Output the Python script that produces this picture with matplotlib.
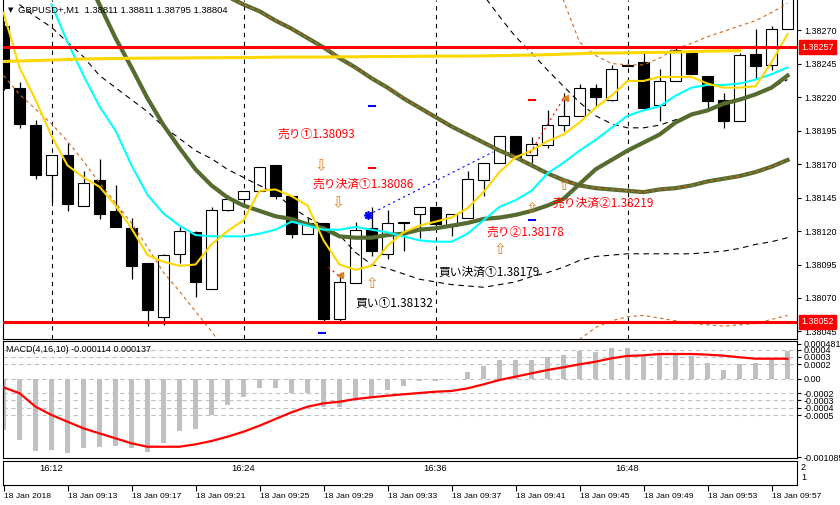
import numpy as np
import matplotlib
matplotlib.use("Agg")
import matplotlib.pyplot as plt

# GBPUSD+ M1 candles, 18 Jan 09:09 .. 09:58
opens = [1.38273, 1.38227, 1.38199, 1.38162, 1.38177, 1.38139, 1.38158, 1.38135, 1.38122, 1.38096,
         1.38056, 1.38103, 1.38119, 1.38077, 1.38136, 1.38144, 1.38150, 1.38169, 1.38146, 1.38118,
         1.38126, 1.38054, 1.38081, 1.38122, 1.38103, 1.38127, 1.38133, 1.38138, 1.38124, 1.38130,
         1.38158, 1.38171, 1.38191, 1.38177, 1.38184, 1.38199, 1.38206, 1.38227, 1.38218, 1.38243,
         1.38246, 1.38214, 1.38232, 1.38253, 1.38236, 1.38218, 1.38202, 1.38252, 1.38244, 1.38271]
highs = [1.38277, 1.38231, 1.38203, 1.38177, 1.38186, 1.38165, 1.38174, 1.38154, 1.38130, 1.38096,
         1.38103, 1.38123, 1.38120, 1.38138, 1.38147, 1.38150, 1.38168, 1.38169, 1.38146, 1.38130,
         1.38126, 1.38088, 1.38127, 1.38138, 1.38136, 1.38127, 1.38138, 1.38138, 1.38133, 1.38165,
         1.38171, 1.38191, 1.38191, 1.38190, 1.38210, 1.38223, 1.38230, 1.38230, 1.38244, 1.38244,
         1.38254, 1.38241, 1.38258, 1.38254, 1.38236, 1.38223, 1.38253, 1.38271, 1.38273, 1.38300]
lows = [1.38225, 1.38197, 1.38159, 1.38142, 1.38135, 1.38139, 1.38129, 1.38123, 1.38084, 1.38049,
        1.38050, 1.38096, 1.38071, 1.38077, 1.38135, 1.38142, 1.38150, 1.38144, 1.38115, 1.38118,
        1.38052, 1.38052, 1.38081, 1.38101, 1.38099, 1.38105, 1.38115, 1.38123, 1.38116, 1.38130,
        1.38146, 1.38171, 1.38175, 1.38171, 1.38182, 1.38195, 1.38206, 1.38213, 1.38217, 1.38243,
        1.38212, 1.38202, 1.38232, 1.38237, 1.38210, 1.38197, 1.38202, 1.38234, 1.38240, 1.38271]
closes = [1.38227, 1.38200, 1.38162, 1.38177, 1.38140, 1.38156, 1.38133, 1.38123, 1.38094, 1.38061,
          1.38102, 1.38120, 1.38082, 1.38136, 1.38144, 1.38150, 1.38168, 1.38146, 1.38118, 1.38126,
          1.38054, 1.38082, 1.38121, 1.38105, 1.38126, 1.38126, 1.38138, 1.38125, 1.38133, 1.38159,
          1.38171, 1.38191, 1.38175, 1.38185, 1.38199, 1.38206, 1.38227, 1.38220, 1.38241, 1.38244,
          1.38212, 1.38232, 1.38255, 1.38237, 1.38217, 1.38202, 1.38251, 1.38243, 1.38271, 1.38300]

nan = np.nan
ma_gold = [1.38283, 1.38242, 1.38218, 1.38191, 1.38169, 1.38160, 1.38153, 1.38139, 1.38122, 1.38102,
           1.38097, 1.38094, 1.38095, 1.38110, 1.38120, 1.38128, 1.38150, 1.38151, 1.38146, 1.38139,
           1.38113, 1.38095, 1.38091, 1.38094, 1.38109, 1.38119, 1.38124, 1.38127, 1.38130, 1.38137,
           1.38149, 1.38164, 1.38175, 1.38180, 1.38187, 1.38192, 1.38201, 1.38212, 1.38221, 1.38232,
           1.38232, 1.38235, 1.38235, 1.38235, 1.38230, 1.38227, 1.38227, 1.38228, 1.38246, 1.38267]
ma_aqua = [nan, nan, nan, 1.38289, 1.38261, 1.38236, 1.38213, 1.38195, 1.38169, 1.38147,
           1.38133, 1.38124, 1.38117, 1.38116, 1.38116, 1.38116, 1.38118, 1.38121, 1.38127, 1.38124,
           1.38121, 1.38121, 1.38123, 1.38121, 1.38119, 1.38116, 1.38113, 1.38112, 1.38112, 1.38118,
           1.38128, 1.38138, 1.38143, 1.38150, 1.38163, 1.38171, 1.38180, 1.38188, 1.38197, 1.38206,
           1.38210, 1.38213, 1.38221, 1.38227, 1.38229, 1.38229, 1.38230, 1.38233, 1.38237, 1.38242]
ma_olive_fast = [nan, nan, nan, nan, nan, 1.38313, 1.38289, 1.38264, 1.38242, 1.38219,
                 1.38199, 1.38182, 1.38166, 1.38154, 1.38145, 1.38139, 1.38135, 1.38131, 1.38129, 1.38125,
                 1.38122, 1.38116, 1.38115, 1.38115, 1.38117, 1.38118, 1.38121, 1.38122, 1.38124, 1.38126,
                 1.38129, 1.38130, 1.38132, 1.38135, 1.38139, 1.38144, 1.38155, 1.38166, 1.38173, 1.38180,
                 1.38186, 1.38192, 1.38201, 1.38207, 1.38210, 1.38215, 1.38218, 1.38222, 1.38227, 1.38236]
ma_olive_slow = [nan] * 14 + [
                 1.38295, 1.38289, 1.38284, 1.38277, 1.38271, 1.38264,
                 1.38257, 1.38249, 1.38242, 1.38234, 1.38227, 1.38219, 1.38212, 1.38205, 1.38198, 1.38192,
                 1.38186, 1.38180, 1.38175, 1.38169, 1.38163, 1.38158, 1.38154, 1.38152, 1.38151, 1.38150,
                 1.38149, 1.38151, 1.38152, 1.38154, 1.38157, 1.38159, 1.38161, 1.38164, 1.38168, 1.38173]
ma_gold_slow = [1.382465, 1.382469, 1.382472, 1.382476, 1.382480, 1.382484, 1.382486, 1.382487, 1.382489, 1.382490,
                1.382491, 1.382491, 1.382493, 1.382493, 1.382494, 1.382494, 1.382496, 1.382497, 1.382498, 1.382498,
                1.382498, 1.382500, 1.382500, 1.382502, 1.382502, 1.382503, 1.382504, 1.382505, 1.382505, 1.382505,
                1.382507, 1.382509, 1.382511, 1.382513, 1.382516, 1.382520, 1.382524, 1.382528, 1.382528, 1.382530,
                1.382532, 1.382533, 1.382535, 1.382539, 1.382542, 1.382544, 1.382546, nan, nan, nan]
band_black_low = [nan, 1.38289, 1.38280, 1.38272, 1.38261, 1.38250, 1.38236, 1.38227, 1.38218, 1.38209,
                  1.38198, 1.38189, 1.38180, 1.38174, 1.38166, 1.38160, 1.38154, 1.38148, 1.38138, 1.38130,
                  1.38124, 1.38117, 1.38104, 1.38095, 1.38092, 1.38088, 1.38084, 1.38082, 1.38080, 1.38079,
                  1.38078, 1.38080, 1.38082, 1.38086, 1.38089, 1.38093, 1.38098, 1.38101, 1.38102, 1.38103,
                  1.38103, 1.38103, 1.38103, 1.38103, 1.38104, 1.38105, 1.38107, 1.38110, 1.38112, 1.38115]
band_black_up = [nan] * 30 + [
                 1.38296, 1.38280, 1.38265, 1.38253, 1.38240, 1.38228, 1.38216, 1.38206, 1.38200, 1.38197,
                 1.38197, 1.38199, 1.38203, 1.38207, 1.38210, 1.38215, 1.38219, 1.38222, 1.38227, 1.38233]
band_orange_left = [1.38236, 1.38222, 1.38211, 1.38200, 1.38187, 1.38172, 1.38156, 1.38141, 1.38126, 1.38108,
                    1.38089, 1.38075, 1.38060, 1.38045, 1.38028] + [nan] * 35
band_orange_up = [nan] * 34 + [
                  1.38322, 1.38292, 1.38261, 1.38251, 1.38245, 1.38244, 1.38244, 1.38249, 1.38256, 1.38260,
                  1.38265, 1.38269, 1.38273, 1.38277, 1.38283, 1.38290]
band_orange_low = [nan] * 36 + [
                   1.38039, 1.38048, 1.38053, 1.38056, 1.38057, 1.38055, 1.38053, 1.38051, 1.38050, 1.38049,
                   1.38050, 1.38051, 1.38054, 1.38057]

# MACD(4,16,10)
macd_hist = [-0.000707, -0.000844, -0.000992, -0.000982, -0.001019, -0.000950, -0.000937, -0.000923, -0.000950, -0.001005,
             -0.000881, -0.000716, -0.000697, -0.000504, -0.000358, -0.000248, -0.000124, -0.000124, -0.000197, -0.000193,
             -0.000394, -0.000394, -0.000270, -0.000248, -0.000156, -0.000100, -0.000030, -0.000030, 0.000000, 0.000096,
             0.000179, 0.000257, 0.000257, 0.000257, 0.000303, 0.000326, 0.000381, 0.000367, 0.000418, 0.000418,
             0.000326, 0.000326, 0.000350, 0.000312, 0.000220, 0.000120, 0.000198, 0.000212, 0.000267, 0.000386]
macd_signal = [-0.000119, -0.000200, -0.000385, -0.000500, -0.000592, -0.000684, -0.000753, -0.000821, -0.000890, -0.000937,
               -0.000937, -0.000937, -0.000904, -0.000858, -0.000799, -0.000730, -0.000647, -0.000555, -0.000463, -0.000386,
               -0.000339, -0.000317, -0.000280, -0.000256, -0.000234, -0.000215, -0.000197, -0.000179, -0.000169, -0.000133,
               -0.000078, -0.000018, 0.000028, 0.000074, 0.000120, 0.000157, 0.000198, 0.000234, 0.000281, 0.000313,
               0.000322, 0.000340, 0.000340, 0.000340, 0.000331, 0.000317, 0.000295, 0.000275, 0.000275, 0.000275]

price_ticks = [1.38045, 1.38070, 1.38095, 1.38120, 1.38145, 1.38170, 1.38195, 1.38220, 1.38245, 1.38270]
macd_ticks = [0.000481, 0.0004, 0.0003, 0.0002, 0.0, -0.0002, -0.0003, -0.0004, -0.0005, -0.001085]
macd_tick_labels = ["0.000481", "0.0004", "0.0003", "0.0002", "0.00", "-0.0002", "-0.0003", "-0.0004", "-0.0005", "-0.001085"]
macd_levels = [0.0004, 0.0003, 0.0002, 0.0, -0.0002, -0.0003, -0.0004, -0.0005]
time_tick_idx = list(range(0, 50, 4))
time_labels = ["18 Jan 2018", "18 Jan 09:13", "18 Jan 09:17", "18 Jan 09:21", "18 Jan 09:25", "18 Jan 09:29",
               "18 Jan 09:33", "18 Jan 09:37", "18 Jan 09:41", "18 Jan 09:45", "18 Jan 09:49", "18 Jan 09:53",
               "18 Jan 09:57"]
sep_idx = [3, 15, 27, 39]
sep_labels = ["16:12", "16:24", "16:36", "16:48"]
level_lines = [1.38257, 1.38052]

# trade objects (time index, price)
sell_texts = [(17.1, 1.38192, "売り①1.38093"), (19.3, 1.38155, "売り決済①1.38086"),
              (34.3, 1.38141, "売り決済②1.38219"), (30.2, 1.38119, "売り②1.38178")]
buy_texts = [(27.2, 1.38089, "買い決済①1.38179"), (22.0, 1.38066, "買い①1.38132")]
down_arrows = [(19.8, 1.38169), (20.9, 1.38141)]
up_arrows = [(23.0, 1.38081), (31.0, 1.38106), (33.0, 1.38137), (35.0, 1.38154)]

W, H = 840, 505
fig = plt.figure(figsize=(W / 100, H / 100), dpi=100)
ax = fig.add_axes([2.5 / W, 166 / H, 794.5 / W, 339 / H])
ax2 = fig.add_axes([2.5 / W, 47 / H, 794.5 / W, 117 / H])
ax3 = fig.add_axes([2.5 / W, 20 / H, 794.5 / W, 24 / H])

x = np.arange(len(opens))
o, h, l, c = map(np.array, (opens, highs, lows, closes))
xlim = (-0.0625, 49.59)

# price panel
for s in sep_idx:
    ax.axvline(s, color='black', lw=0.8, ls=(0, (4, 4)), zorder=1)
ax.vlines(x, l, h, color='black', lw=0.9, zorder=3)
ax.bar(x, np.maximum(np.abs(c - o), 0.000004), bottom=np.minimum(o, c), width=0.69,
       color=np.where(c >= o, 'white', 'black'), edgecolor='black', lw=0.8, zorder=4)

ax.plot(x, band_orange_left, color='#D2691E', lw=0.8, ls=(0, (3, 3)), zorder=5)
ax.plot(x, band_orange_up, color='#D2691E', lw=0.8, ls=(0, (3, 3)), zorder=5)
ax.plot(x, band_orange_low, color='#D2691E', lw=0.8, ls=(0, (3, 3)), zorder=5)
ax.plot(x, band_black_low, color='black', lw=0.8, ls=(0, (5, 4)), zorder=5)
ax.plot(x, band_black_up, color='black', lw=0.8, ls=(0, (5, 4)), zorder=5)
ax.plot(x, ma_olive_slow, color='#556B2F', lw=3.0, zorder=6)
ax.plot(x, ma_olive_slow, color='#D2691E', lw=0.8, ls=(0, (3, 3)), zorder=6)
ax.plot(x, ma_olive_fast, color='#556B2F', lw=3.0, zorder=6)
ax.plot(x, ma_aqua, color='#00FFFF', lw=1.5, zorder=6)
ax.plot(x, ma_gold, color='#FFD700', lw=1.5, zorder=6)
ax.plot(x, ma_gold_slow, color='#FFD700', lw=2.2, zorder=6)
for lv in level_lines:
    ax.axhline(lv, color='red', lw=2.2, zorder=7)

# trades
ax.plot([22.8, 30.6], [1.38132, 1.38179], color='blue', lw=0.8, ls=(0, (2, 3)), zorder=8)
ax.plot([20.3, 21.0], [1.38093, 1.38086], color='red', lw=0.8, ls=(0, (2, 3)), zorder=8)
ax.plot([32.9, 35.0], [1.38178, 1.38219], color='red', lw=0.8, ls=(0, (2, 3)), zorder=8)
ax.plot([22.8], [1.38132], marker=(8, 2, 0), color='blue', ms=6, mew=1.2, zorder=9)
ax.plot([21.0, 35.1], [1.38087, 1.38219], marker='<', ls='none', color='#E08020', ms=4, zorder=9)
ax.plot([23.0, 19.9, 33.0], [1.38213, 1.38044, 1.38128], marker='_', ls='none', color='blue', ms=6, mew=1.5, zorder=9)
ax.plot([23.0, 33.0], [1.38167, 1.38218], marker='_', ls='none', color='red', ms=6, mew=1.5, zorder=9)
for ax_x, ax_y in down_arrows:
    ax.text(ax_x, ax_y, "⇩", color='#E08020', fontsize=11, ha='center', va='center',
            family=['DejaVu Sans'], zorder=9)
for ax_x, ax_y in up_arrows:
    ax.text(ax_x, ax_y, "⇧", color='#E08020', fontsize=11, ha='center', va='center',
            family=['DejaVu Sans'], zorder=9)
jp = ['Noto Sans CJK JP', 'DejaVu Sans']
for tx, ty, s in sell_texts:
    ax.text(tx, ty, s, color='red', fontsize=8.5, va='center', family=jp, zorder=9)
for tx, ty, s in buy_texts:
    ax.text(tx, ty, s, color='black', fontsize=8.5, va='center', family=jp, zorder=9)

ax.set_xlim(*xlim)
ax.set_ylim(1.380394, 1.382924)
ax.set_xticks([])
ax.set_yticks(price_ticks)
ax.set_yticklabels([f"{p:.5f}" for p in price_ticks])
ax.yaxis.tick_right()
ax.tick_params(axis='y', direction='out', length=3, width=0.8, pad=2, labelsize=6.5)
ax.spines['top'].set_visible(False)

# MACD panel
for lv in macd_levels:
    ax2.axhline(lv, color='#c0c0c0', lw=0.8, ls=(0, (4, 3)), zorder=1)
ax2.bar(x, macd_hist, width=0.31, color='#c0c0c0', zorder=2)
ax2.plot(x, macd_signal, color='red', lw=1.6, zorder=3)
ax2.set_xlim(*xlim)
ax2.set_ylim(-0.001092, 0.000519)
ax2.set_xticks([])
ax2.set_yticks(macd_ticks)
ax2.set_yticklabels(macd_tick_labels)
ax2.yaxis.tick_right()
ax2.tick_params(axis='y', direction='out', length=3, width=0.8, pad=2, labelsize=6.5)
ax2.text(0.005, 0.93, "MACD(4,16,10) -0.000114 0.000137", transform=ax2.transAxes,
         fontsize=6.5, va='center', family=['Liberation Sans'])

# time panel
ax3.set_xlim(*xlim)
ax3.set_ylim(0, 1)
ax3.set_yticks([])
for s, lab in zip(sep_idx, sep_labels):
    ax3.text(s, 0.7, lab, ha='center', va='center', fontsize=6.8, family=['Liberation Sans'])
ax3.set_xticks(time_tick_idx)
ax3.set_xticklabels(time_labels, ha='left')
ax3.tick_params(axis='x', direction='out', length=4, width=0.8, pad=1.5, labelsize=6.1)

for a in (ax, ax2, ax3):
    for sp in a.spines.values():
        sp.set_linewidth(0.8)
    for lab in a.get_xticklabels() + a.get_yticklabels():
        lab.set_family('Liberation Sans')

# header and right-axis flags
fig.text(8 / W, 1 - 10 / H, "▼", fontsize=5, va='center', family=['DejaVu Sans'])
fig.text(18 / W, 1 - 10 / H, "GBPUSD+,M1  1.38811 1.38811 1.38795 1.38804", fontsize=6.8,
         va='center', family=['Liberation Sans'])
for lv, yy in zip(level_lines, (47, 322)):
    fig.text(801 / W, 1 - yy / H, f"{lv:.5f}", color='white', fontsize=6.5, va='center',
             family=['Liberation Sans'],
             bbox=dict(boxstyle='square,pad=0.25', fc='red', ec='red'))
fig.text(801 / W, 1 - 467 / H, "2", fontsize=6.5, va='center', family=['Liberation Sans'])
fig.text(801 / W, 1 - 477 / H, "1", fontsize=6.5, va='center', family=['Liberation Sans'])

fig.savefig("out.png", dpi=100)
